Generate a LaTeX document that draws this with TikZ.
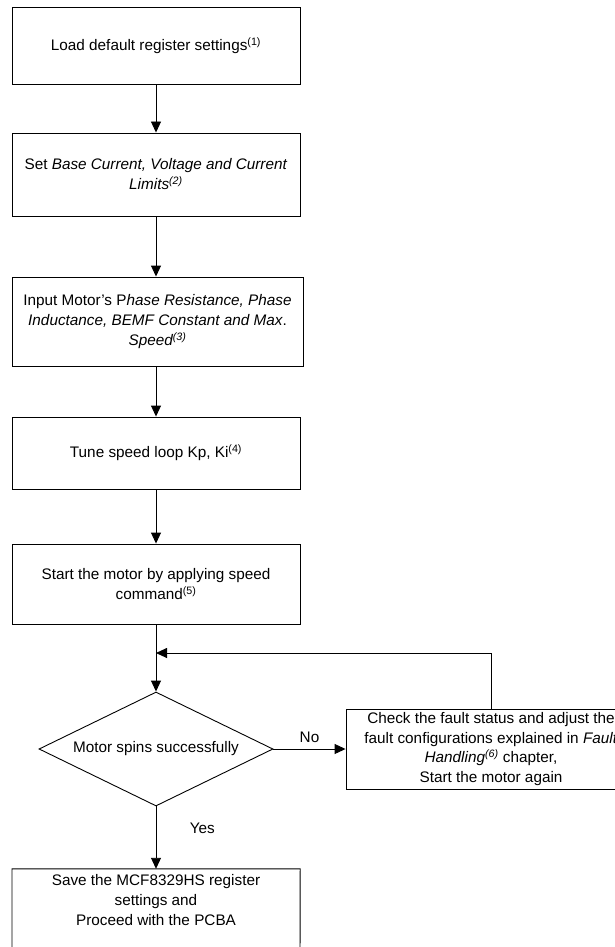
\documentclass[tikz,border=0pt]{standalone}
\usepackage{fontspec}
\setmainfont{Liberation Sans}
\usetikzlibrary{arrows.meta,shapes.geometric}
\begin{document}
\begin{tikzpicture}[x=1pt,y=-1pt,
  every node/.style={font=\fontsize{15.3}{20}\selectfont},
  stepbox/.style={draw, line width=0.9pt, rectangle, align=center, inner sep=0pt, minimum width=288pt},
  decision/.style={draw, line width=0.9pt, shape=diamond, inner sep=0pt, minimum width=234pt, minimum height=114pt, aspect=2.05},
  arr/.style={line width=0.9pt, -{Triangle[length=11pt,width=10pt]}},
  conn/.style={line width=0.9pt}]
\useasboundingbox (0,0) rectangle (615,947);
\clip (0,0) rectangle (615,947);

\node[stepbox, minimum height=77pt] (b1) at (156,45.5) {Load default register settings\textsuperscript{(1)}};
\node[stepbox, minimum height=83pt] (b2) at (156,174.5) {Set \textit{Base Current, Voltage and Current}\\\textit{Limits\textsuperscript{(2)}}};
\node[stepbox, minimum width=291pt, minimum height=89pt] (b3) at (157.5,321.5) {Input Motor’s P\textit{hase Resistance, Phase}\\\textit{Inductance, BEMF Constant and Max}.\\\textit{Speed\textsuperscript{(3)}}};
\node[stepbox, minimum height=72pt] (b4) at (156,453) {Tune speed loop Kp, Ki\textsuperscript{(4)}};
\node[stepbox, minimum height=80pt] (b5) at (156,584) {Start the motor by applying speed\\command\textsuperscript{(5)}};
\node[decision] (d) at (156,749) {Motor spins successfully};
\node[stepbox, minimum width=290pt, minimum height=80pt, font=\fontsize{15.3}{19.5}\selectfont] (f) at (491,749) {Check the fault status and adjust the\\fault configurations explained in \textit{Fault}\\\textit{Handling\textsuperscript{(6)}} chapter,\\Start the motor again};
\node[rectangle, align=center, inner sep=0pt, minimum width=288pt, minimum height=62pt] (e) at (156,900) {Save the MCF8329HS register\\settings and\\Proceed with the PCBA};
\coordinate (ebl) at (12,965);
\coordinate (ebr) at (300,965);
\draw[conn] (ebl) |- (e.north east) -- (ebr);

\coordinate (j) at (156,653);

\draw[arr] (b1) -- (b2);
\draw[arr] (b2) -- (b3.north -| b2);
\draw[arr] (b3.south -| b4) -- (b4);
\draw[arr] (b4) -- (b5);
\draw[arr] (b5) -- (d);
\draw[arr] (d) -- node[above=3pt] {No} (f);
\draw[arr] (d) -- node[pos=0.35, right=30pt] {Yes} (e.north);
\draw[arr] (f.north) |- (j);
\end{tikzpicture}
\end{document}
